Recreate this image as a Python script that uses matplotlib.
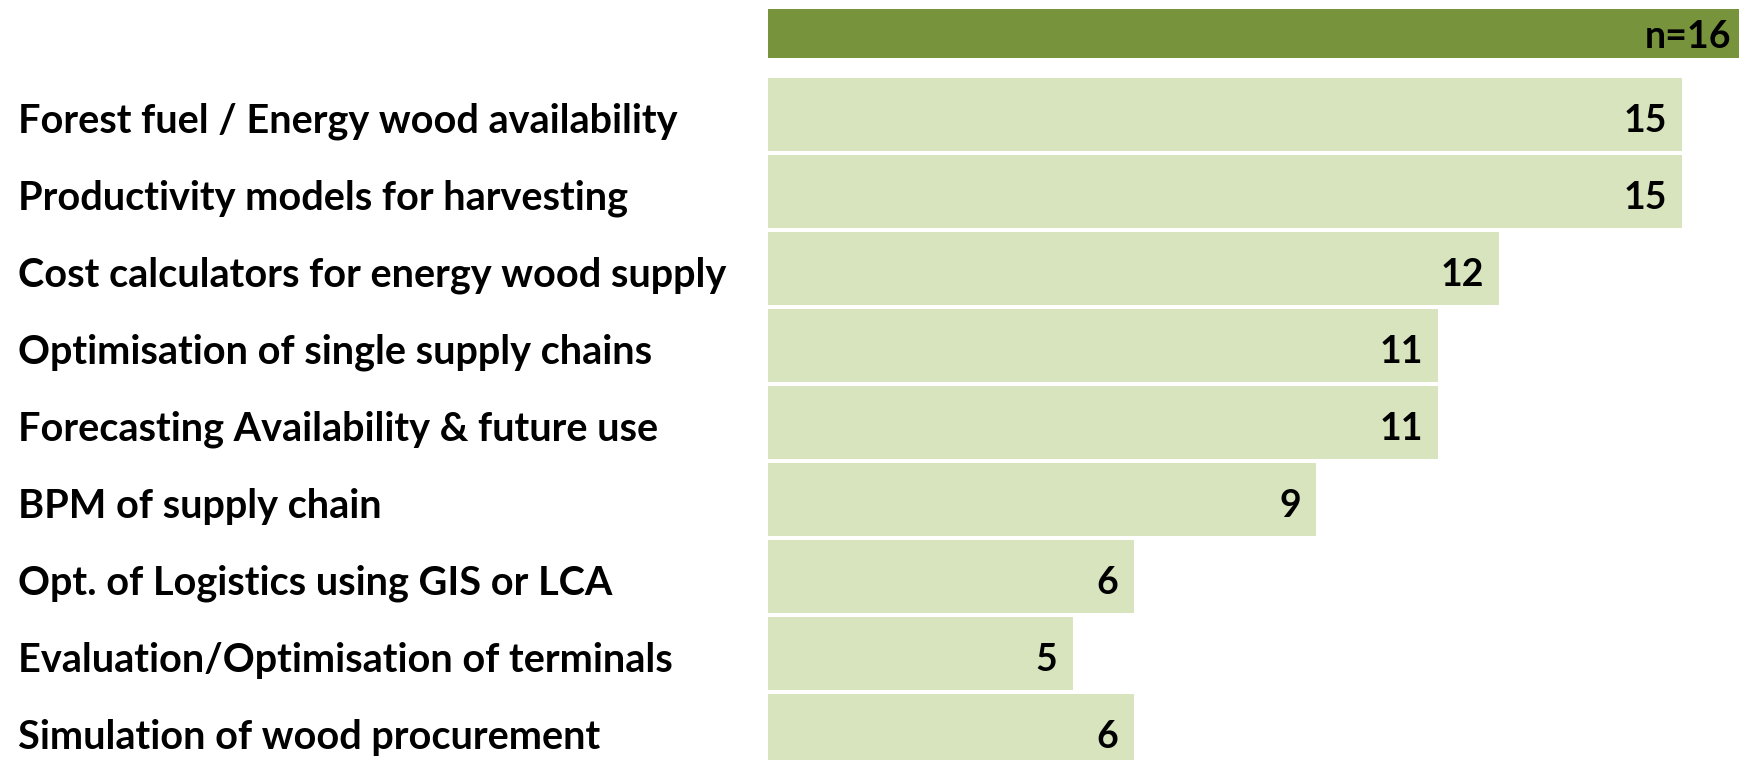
import matplotlib
matplotlib.use("Agg")
import matplotlib.pyplot as plt
from matplotlib.transforms import blended_transform_factory

# data
categories = [
    "Forest fuel / Energy wood availability",
    "Productivity models for harvesting",
    "Cost calculators for energy wood supply",
    "Optimisation of single supply chains",
    "Forecasting Availability & future use",
    "BPM of supply chain",
    "Opt. of Logistics using GIS or LCA",
    "Evaluation/Optimisation of terminals",
    "Simulation of wood procurement",
]
counts = [15, 15, 12, 11, 11, 9, 6, 5, 6]
n_total = 16

bar_color = "#D7E4BD"
head_color = "#77933C"
font = ["Lato", "DejaVu Sans"]
dy = 0.09  # text sits a little below bar centre

fig = plt.figure(figsize=(17.4, 7.6), dpi=100)
ax = fig.add_axes([768 / 1740, 0, 1 - 768 / 1740, 1])

ypos = list(range(len(categories)))
ax.barh(ypos, counts, height=0.95, color=bar_color, edgecolor="none")

# header band with n
ax.barh([-1.049], [n_total], height=0.636, color=head_color, edgecolor="none")
ax.text(15.8, -1.049 + 0.04, f"n={n_total}", ha="right", va="center",
        fontsize=27, fontweight="bold", family=font)

for y, v in zip(ypos, counts):
    ax.text(v - 0.25, y + dy, str(v), ha="right", va="center",
            fontsize=27, fontweight="bold", family=font)

trans = blended_transform_factory(fig.transFigure, ax.transData)
for y, lab in zip(ypos, categories):
    fig.text(18 / 1740, y + dy, lab, transform=trans, ha="left", va="center",
             fontsize=28.5, fontweight="bold", family=font)

ax.set_xlim(0, 15.95)
ax.set_ylim(8.386, -1.484)
ax.axis("off")

fig.savefig("out.png", dpi=100)
